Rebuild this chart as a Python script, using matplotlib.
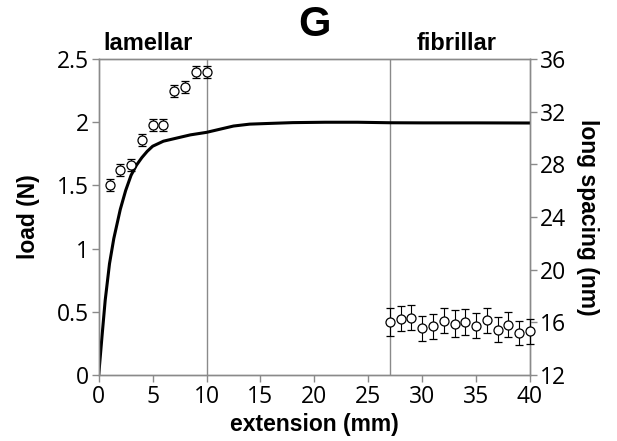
import matplotlib
matplotlib.use("Agg")
import matplotlib.pyplot as plt

# load curve (left axis)
ext_curve = [0, 0.3, 0.6, 1.0, 1.4, 2.0, 2.5, 3.0, 3.5, 4.0, 4.5, 5.0, 6.0, 7.0, 8.5,
             10, 11, 12.5, 14, 15.6, 18, 21, 24, 27, 30, 35, 40]
load = [0, 0.3, 0.59, 0.88, 1.08, 1.31, 1.46, 1.58, 1.66, 1.72, 1.77, 1.81, 1.85, 1.87, 1.90,
        1.92, 1.94, 1.97, 1.985, 1.99, 1.997, 2.0, 2.0, 1.996, 1.995, 1.995, 1.994]

# long spacing (right axis)
ext_lam = [1, 2, 3, 4, 5, 6, 7, 8, 9, 10]
ls_lam = [26.4, 27.6, 27.95, 29.85, 31.0, 31.0, 33.6, 33.85, 35.05, 35.05]
err_lam = [0.45, 0.45, 0.45, 0.45, 0.45, 0.45, 0.45, 0.45, 0.45, 0.45]

ext_fib = [27, 28, 29, 30, 31, 32, 33, 34, 35, 36, 37, 38, 39, 40]
ls_fib = [16.02, 16.28, 16.33, 15.55, 15.70, 16.12, 15.90, 16.0, 15.72, 16.15, 15.44, 15.82, 15.19, 15.32]
err_fib = [1.05, 0.95, 0.95, 0.95, 0.95, 0.95, 1.0, 1.0, 0.95, 0.95, 0.95, 0.95, 0.9, 0.95]

x_ticks = [0, 5, 10, 15, 20, 25, 30, 35, 40]
left_ticks = [0, 0.5, 1, 1.5, 2, 2.5]
left_labels = ["0", "0.5", "1", "1.5", "2", "2.5"]
right_ticks = [12, 16, 20, 24, 28, 32, 36]
region_lines = [10, 27]

fig = plt.figure(figsize=(6.17, 4.41), dpi=100)
ax = fig.add_axes([0.16, 0.150, 0.699, 0.716])
ax2 = ax.twinx()

gray = "#8a8a8a"
tick_font = {"family": "Open Sans", "size": 16.5}
lab_font = {"family": "Liberation Sans", "weight": "bold", "size": 16.5}

for xv in region_lines:
    ax.axvline(xv, color=gray, lw=1.0, zorder=1)

ax.plot(ext_curve, load, color="black", lw=2.2, zorder=3)
ax.set_xlim(0, 40)
ax.set_ylim(0, 2.5)
ax.set_xticks(x_ticks)
ax.set_xticklabels([str(t) for t in x_ticks], fontdict=tick_font)
ax.set_yticks(left_ticks)
ax.set_yticklabels(left_labels, fontdict=tick_font)

ax2.errorbar(ext_lam, ls_lam, yerr=err_lam, fmt="o", mfc="white", mec="black", ms=6.5,
             mew=0.9, ecolor="black", elinewidth=0.8, capsize=3, capthick=0.8, zorder=4)
ax2.errorbar(ext_fib, ls_fib, yerr=err_fib, fmt="o", mfc="white", mec="black", ms=6.5,
             mew=0.9, ecolor="black", elinewidth=0.8, capsize=3, capthick=0.8, zorder=4,
             clip_on=False)
ax2.set_ylim(12, 36)
ax2.set_yticks(right_ticks)
ax2.set_yticklabels([str(t) for t in right_ticks], fontdict=tick_font)

for a in (ax, ax2):
    for s in a.spines.values():
        s.set_color(gray)
        s.set_linewidth(1.0)
    a.tick_params(direction="out", length=5, width=1.0, color=gray, pad=2)

ax.set_xlabel("extension (mm)", fontdict=lab_font, labelpad=3)
ax.set_ylabel("load (N)", fontdict=lab_font, labelpad=12)
ax2.set_ylabel("long spacing (nm)", fontdict=lab_font, rotation=270, labelpad=24)

ax.text(0.5, 1.045, "G", transform=ax.transAxes, ha="center", va="bottom",
        fontfamily="Liberation Sans", fontweight="bold", fontsize=30)
ax.text(0.01, 1.012, "lamellar", transform=ax.transAxes, ha="left", va="bottom",
        fontfamily="Liberation Sans", fontweight="bold", fontsize=17)
ax.text(0.736, 1.012, "fibrillar", transform=ax.transAxes, ha="left", va="bottom",
        fontfamily="Liberation Sans", fontweight="bold", fontsize=17)

fig.savefig("out.png", dpi=100)
